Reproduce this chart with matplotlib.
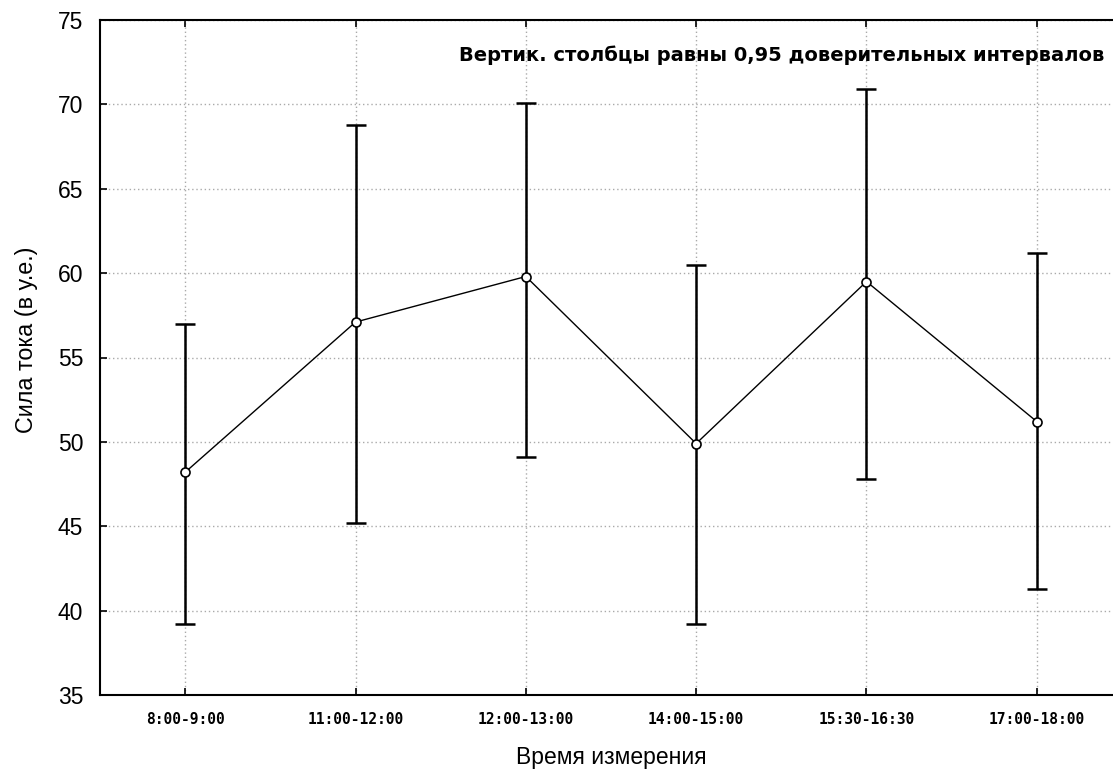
import matplotlib
matplotlib.use("Agg")
import matplotlib.pyplot as plt
import numpy as np

# Measurement windows and current strength (arbitrary units) with 0.95 CI bounds
periods = ['8:00-9:00', '11:00-12:00', '12:00-13:00', '14:00-15:00', '15:30-16:30', '17:00-18:00']
mean_current = [48.2, 57.1, 59.8, 49.9, 59.5, 51.2]
ci_upper = [57.0, 68.8, 70.1, 60.5, 70.9, 61.2]
ci_lower = [39.2, 45.2, 49.1, 39.2, 47.8, 41.3]

plt.rcParams['font.family'] = ['Liberation Sans', 'DejaVu Sans']

fig = plt.figure(figsize=(11.13, 7.78), dpi=100)
ax = fig.add_axes([100 / 1113, 83 / 778, 1022 / 1113, 675 / 778])

x = np.arange(len(periods))
mean = np.array(mean_current)
yerr = [mean - np.array(ci_lower), np.array(ci_upper) - mean]

ax.errorbar(x, mean, yerr=yerr, fmt='none', ecolor='black', elinewidth=1.8,
            capsize=7, capthick=1.8, zorder=3)
ax.plot(x, mean, color='black', linewidth=1.0, marker='o', markersize=6.5,
        markerfacecolor='white', markeredgecolor='black', markeredgewidth=1.2, zorder=4)

ax.set_xlim(-0.5, 5.5)
ax.set_ylim(35, 75)
ax.set_yticks(range(35, 76, 5))
ax.set_xticks(x)
ax.set_xticklabels(periods, fontsize=10.5, fontweight='bold', family='DejaVu Sans Mono')
ax.tick_params(axis='y', labelsize=16.5, direction='in', length=5, width=1.2, pad=12)
ax.tick_params(axis='x', direction='in', length=5, width=1.2, pad=12, top=True)

ax.grid(True, color='#aaaaaa', linestyle=(0, (1, 2)), linewidth=1.0)
ax.set_axisbelow(True)
for s in ax.spines.values():
    s.set_linewidth(1.5)

ax.set_ylabel('Сила тока (в у.е.)', fontsize=16.8)
ax.yaxis.set_label_coords(-0.061, 0.526)
ax.set_xlabel('Время измерения', fontsize=16.5, labelpad=14)

ax.text(0.983, 0.948, 'Вертик. столбцы равны 0,95 доверительных интервалов',
        transform=ax.transAxes, ha='right', va='center', fontsize=14,
        family='DejaVu Sans', fontweight='bold')

fig.savefig('out.png', dpi=100)
